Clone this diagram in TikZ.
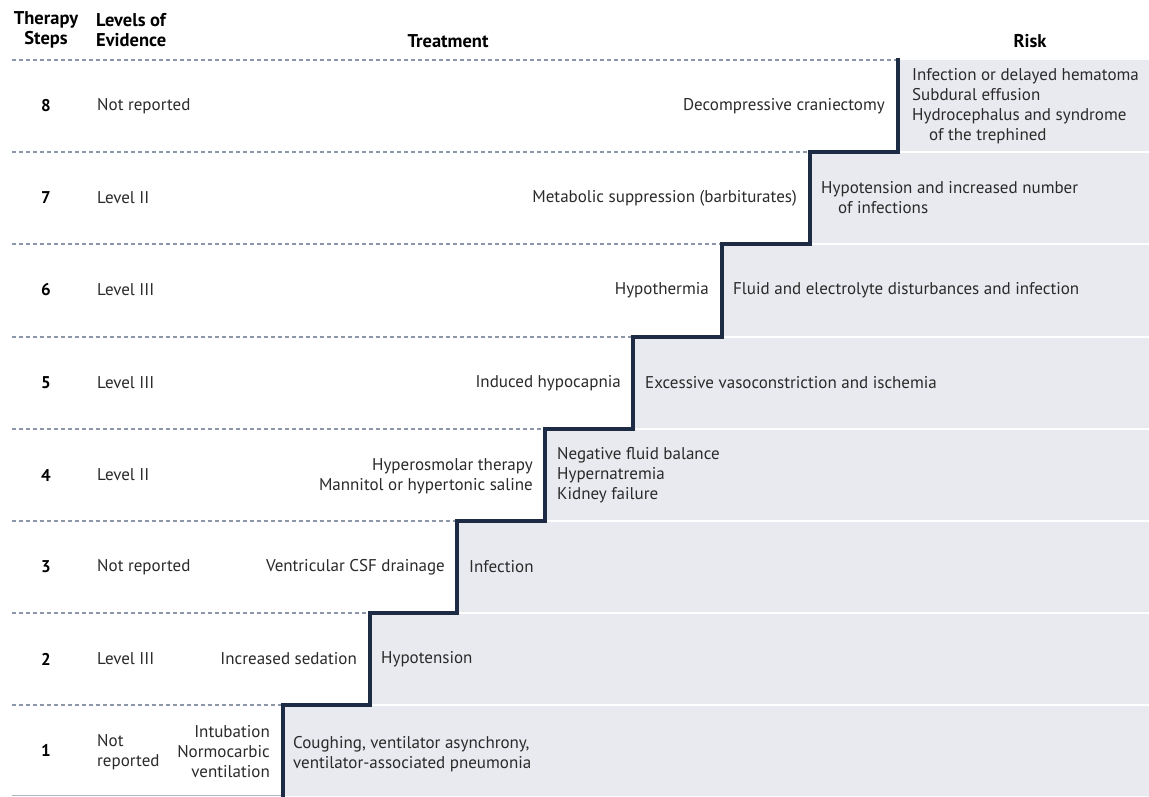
\documentclass[tikz,border=0pt]{standalone}
\usepackage{fontspec}
\setmainfont{PT Sans}
\definecolor{navy}{HTML}{1D2B45}
\definecolor{riskgray}{HTML}{E9EAEF}
\definecolor{dashgray}{HTML}{8C96AA}
\definecolor{txtcol}{HTML}{2A2A2A}
\begin{document}
\begin{tikzpicture}[x=1pt,y=-1pt,
  txt/.style={inner sep=0pt, font=\fontsize{17}{20}\selectfont, text=txtcol},
  hdr/.style={inner sep=0pt, font=\fontsize{18.5}{20}\selectfont\bfseries, text=black, align=center},
  num/.style={inner sep=0pt, font=\fontsize{17}{20}\selectfont\bfseries, text=black},
  trt/.style={txt, anchor=east, align=right},
  rsk/.style={txt, anchor=west, align=left},
  lev/.style={txt, anchor=west, align=left},
  sep/.style={dashgray, line width=1.4pt, dash pattern=on 4pt off 3pt},
  stair/.style={navy, line width=3.6pt, line join=miter, line cap=rect},
  whitesep/.style={white, line width=2pt}]
\useasboundingbox (0,0) rectangle (1149,796);
\fill[white] (0,0) rectangle (1149,796);
% staircase corner coordinates
\coordinate (s1b) at (283,796); \coordinate (s1t) at (283,705);
\coordinate (s2b) at (370,705); \coordinate (s2t) at (370,613);
\coordinate (s3b) at (457,613); \coordinate (s3t) at (457,521);
\coordinate (s4b) at (545,521); \coordinate (s4t) at (545,429);
\coordinate (s5b) at (633,429); \coordinate (s5t) at (633,337);
\coordinate (s6b) at (722,337); \coordinate (s6t) at (722,244);
\coordinate (s7b) at (810,244); \coordinate (s7t) at (810,152);
\coordinate (s8b) at (898,152); \coordinate (s8t) at (898,60);
\coordinate (tr) at (1149,60); \coordinate (br) at (1149,796);
% left ends of separators
\coordinate (l1) at (12,705); \coordinate (l2) at (12,613);
\coordinate (l3) at (12,521); \coordinate (l4) at (12,429);
\coordinate (l5) at (12,337); \coordinate (l6) at (12,244);
\coordinate (l7) at (12,152); \coordinate (l8) at (12,60);
\coordinate (l0) at (12,795); \coordinate (b0) at (283,795);
% gray risk region
\fill[riskgray] (s1b) -- (s1t) -- (s2b) -- (s2t) -- (s3b) -- (s3t) -- (s4b) -- (s4t)
  -- (s5b) -- (s5t) -- (s6b) -- (s6t) -- (s7b) -- (s7t) -- (s8b) -- (s8t) -- (tr) -- (br) -- cycle;
% white separators in the gray region
\draw[whitesep] (s2b) -- (1149,705);
\draw[whitesep] (s3b) -- (1149,613);
\draw[whitesep] (s4b) -- (1149,521);
\draw[whitesep] (s5b) -- (1149,429);
\draw[whitesep] (s6b) -- (1149,337);
\draw[whitesep] (s7b) -- (1149,244);
\draw[whitesep] (s8b) -- (1149,152);
% dashed separators
\draw[sep] (l8) -- (s8t);
\draw[sep] (l7) -- (s8b);
\draw[sep] (l6) -- (s7b);
\draw[sep] (l5) -- (s6b);
\draw[sep] (l4) -- (s5b);
\draw[sep] (l3) -- (s4b);
\draw[sep] (l2) -- (s3b);
\draw[sep] (l1) -- (s2b);
\draw[dashgray!70, line width=1pt] (l0) -- (b0);
% staircase
\draw[stair] (s1b) -- (s1t) -- (s2b) -- (s2t) -- (s3b) -- (s3t) -- (s4b) -- (s4t)
  -- (s5b) -- (s5t) -- (s6b) -- (s6t) -- (s7b) -- (s7t) -- (s8b) -- (s8t);
% headers
\node[hdr] (hsteps) at (46,30) {Therapy\\Steps};
\node[hdr, anchor=west, align=left] (hlev) at (96,30) {Levels of\\Evidence};
\node[hdr] (htrt) at (448,41) {Treatment};
\node[hdr] (hrisk) at (1030,41) {Risk};
% row 8
\node[num] (n8) at (46,106) {8};
\node[lev] (e8) at (97,106) {Not reported};
\node[trt] (t8) at (885,106) {Decompressive craniectomy};
\node[rsk] (r8) at (912,106) {Infection or delayed hematoma\\Subdural effusion\\Hydrocephalus and syndrome\\\hspace*{1em}of the trephined};
% row 7
\node[num] (n7) at (46,198) {7};
\node[lev] (e7) at (97,198) {Level II};
\node[trt] (t7) at (797,198) {Metabolic suppression (barbiturates)};
\node[rsk] (r7) at (821,198) {Hypotension and increased number\\\hspace*{1em}of infections};
% row 6
\node[num] (n6) at (46,290) {6};
\node[lev] (e6) at (97,290) {Level III};
\node[trt] (t6) at (709,290) {Hypothermia};
\node[rsk] (r6) at (733,290) {Fluid and electrolyte disturbances and infection};
% row 5
\node[num] (n5) at (46,383) {5};
\node[lev] (e5) at (97,383) {Level III};
\node[trt] (t5) at (621,383) {Induced hypocapnia};
\node[rsk] (r5) at (645,383) {Excessive vasoconstriction and ischemia};
% row 4
\node[num] (n4) at (46,475) {4};
\node[lev] (e4) at (97,475) {Level II};
\node[trt] (t4) at (533,476) {Hyperosmolar therapy\\Mannitol or hypertonic saline};
\node[rsk] (r4) at (557,475) {Negative fluid balance\\Hypernatremia\\Kidney failure};
% row 3
\node[num] (n3) at (46,567) {3};
\node[lev] (e3) at (97,567) {Not reported};
\node[trt] (t3) at (445,567) {Ventricular CSF drainage};
\node[rsk] (r3) at (469,567) {Infection};
% row 2
\node[num] (n2) at (46,659) {2};
\node[lev] (e2) at (97,659) {Level III};
\node[trt] (t2) at (357,659) {Increased sedation};
\node[rsk] (r2) at (381,659) {Hypotension};
% row 1
\node[num] (n1) at (46,750) {1};
\node[lev] (e1) at (97,752) {Not\\reported};
\node[trt] (t1) at (270,752) {Intubation\\Normocarbic\\ventilation};
\node[rsk] (r1) at (293,754) {Coughing, ventilator asynchrony,\\ventilator-associated pneumonia};
\end{tikzpicture}
\end{document}
